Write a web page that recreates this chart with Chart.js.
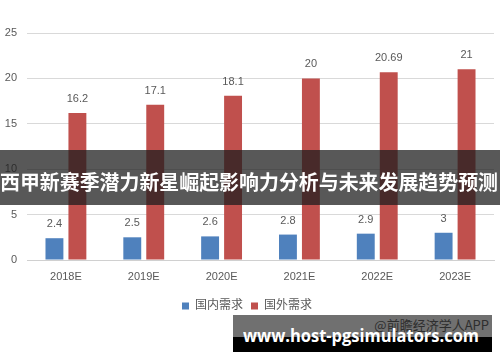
<!DOCTYPE html>
<html><head><meta charset="utf-8">
<script src="https://cdn.jsdelivr.net/npm/chart.js@4"></script>
<style>
html,body{margin:0;padding:0;background:#fff;}
#wrap{position:relative;width:500px;height:362px;overflow:hidden;background:#fff;}
#c{position:absolute;left:0;top:0;}
.band{position:absolute;left:0;top:150px;width:500px;height:55px;background:rgba(30,30,30,0.74);}
.title{position:absolute;left:0;top:170px;height:24px;line-height:24px;color:#fff;font-weight:bold;font-size:20px;font-family:"Noto Sans CJK SC";white-space:nowrap;transform-origin:0 0;}
.gbox{position:absolute;left:233px;top:315px;width:259px;height:22px;background:#707070;overflow:hidden;}
.gtext{position:absolute;right:3px;top:2px;font-size:13px;line-height:16px;color:#2e2e2e;font-family:"Noto Sans CJK SC";white-space:nowrap;}
.bbox{position:absolute;left:233px;top:337px;width:259px;height:15px;background:#000;}
.url{position:absolute;left:243px;top:323px;height:24px;line-height:24px;color:#fff;font-weight:bold;font-size:18px;font-family:"Open Sans";white-space:nowrap;transform-origin:0 0;}
</style></head>
<body>
<div id="wrap">
<canvas id="c" width="500" height="362"></canvas>
<div class="band"></div>
<div class="title" id="title">西甲新赛季潜力新星崛起影响力分析与未来发展趋势预测</div>
<div class="gbox"><div class="gtext">@前瞻经济学人APP</div></div>
<div class="bbox"></div>
<div class="url" id="url">www.host-pgsimulators.com</div>
</div>
<script>
const categories = ['2018E','2019E','2020E','2021E','2022E','2023E'];
const domestic = [2.4, 2.5, 2.6, 2.8, 2.9, 3];
const foreign = [16.2, 17.1, 18.1, 20, 20.69, 21];
const seriesNames = ['国内需求','国外需求'];
const yMin = 0, yMax = 25, yStep = 5;

const FONT = '"Liberation Sans", "Noto Sans CJK SC", sans-serif';
const TXT = '#595959';

const valueLabels = {
  id: 'valueLabels',
  afterDatasetsDraw(chart) {
    const ctx = chart.ctx;
    ctx.save();
    ctx.font = '11px ' + FONT;
    ctx.fillStyle = TXT;
    ctx.textAlign = 'center';
    ctx.textBaseline = 'alphabetic';
    chart.data.datasets.forEach((ds, i) => {
      chart.getDatasetMeta(i).data.forEach((bar, j) => {
        ctx.fillText(String(ds.data[j]), bar.x, bar.y - 11);
      });
    });
    ctx.restore();
  }
};

new Chart(document.getElementById('c'), {
  type: 'bar',
  data: {
    labels: categories,
    datasets: [
      { label: seriesNames[0], data: domestic, backgroundColor: '#4f81bd', categoryPercentage: 0.59, barPercentage: 0.78 },
      { label: seriesNames[1], data: foreign, backgroundColor: '#c0504d', categoryPercentage: 0.59, barPercentage: 0.78 }
    ]
  },
  options: {
    responsive: false,
    animation: false,
    devicePixelRatio: 1,
    layout: { padding: { top: 33, right: 6, left: 0, bottom: 40 } },
    plugins: {
      tooltip: { enabled: false },
      legend: {
        position: 'bottom',
        labels: { boxWidth: 7, boxHeight: 7, padding: 8, color: TXT, font: { size: 12, family: FONT } }
      }
    },
    scales: {
      x: {
        grid: { display: false, drawTicks: false },
        border: { color: '#d0d0d0' },
        ticks: { color: TXT, font: { size: 11, family: FONT }, padding: 10 },
        afterFit(s) { s.height = 32; }
      },
      y: {
        min: yMin, max: yMax,
        grid: { color: '#d9d9d9', drawTicks: false },
        border: { display: false },
        ticks: { stepSize: yStep, color: TXT, font: { size: 11, family: FONT }, padding: 10 },
        afterFit(s) { s.width = 27; }
      }
    }
  },
  plugins: [valueLabels]
});

function fit(id, target) {
  const el = document.getElementById(id);
  const w = el.getBoundingClientRect().width;
  if (w > 0) el.style.transform = 'scaleX(' + (target / w) + ')';
}
fit('title', 498);
fit('url', 236);
</script>
</body></html>
